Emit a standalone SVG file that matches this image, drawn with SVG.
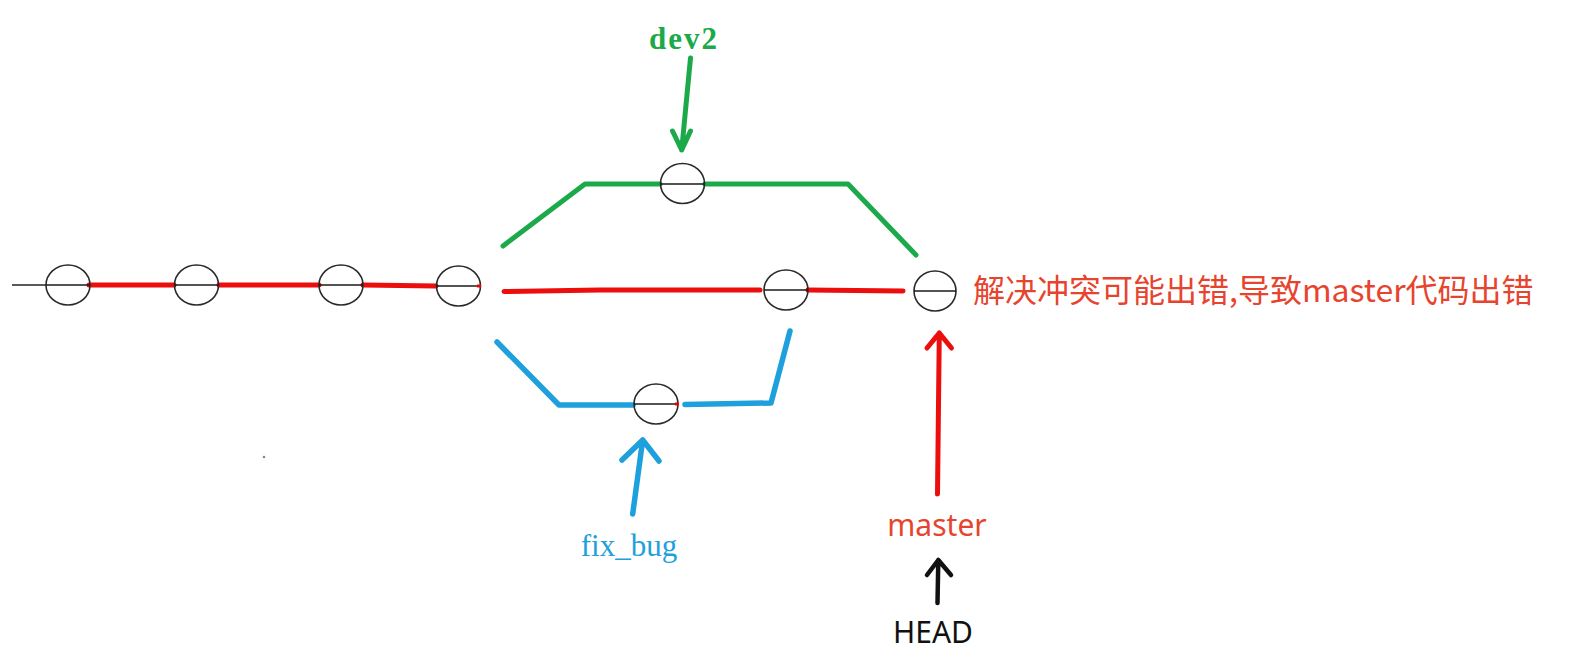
<svg xmlns="http://www.w3.org/2000/svg" width="1578" height="662" viewBox="0 0 1578 662">
<defs>
<style>
.c{fill:none;stroke:#2a2a2a;stroke-width:1.6}
.d{stroke:#1a1a1a;stroke-width:1.6}
.r{fill:none;stroke:#ec0d0d;stroke-width:5;stroke-linecap:round;stroke-linejoin:round}
.g{fill:none;stroke:#1ca94a;stroke-width:5;stroke-linecap:round;stroke-linejoin:round}
.b{fill:none;stroke:#1ea0dc;stroke-width:5.5;stroke-linecap:round;stroke-linejoin:round}
.k{fill:none;stroke:#111;stroke-width:4.5;stroke-linecap:round;stroke-linejoin:round}
.serif{font-family:"Liberation Serif","DejaVu Serif",serif}
.sans{font-family:"Noto Sans","Noto Sans CJK SC",sans-serif}
</style>
</defs>
<rect width="1578" height="662" fill="#fff"/>
<g id="connectors">
<line x1="12" y1="285" x2="46" y2="285" stroke="#222" stroke-width="1.6"/>
<line class="r" x1="89" y1="285" x2="174" y2="285"/>
<line class="r" x1="219" y1="285" x2="319" y2="285"/>
<line class="r" x1="363" y1="285" x2="436" y2="286"/>
<path class="r" d="M504 291.5 L600 290 L760 290"/>
<line class="r" x1="808" y1="290" x2="903" y2="291"/>
<path class="g" d="M503 246 L585 184 L660 184"/>
<path class="g" d="M705 184 L848 184 L916 255"/>
<path class="b" d="M497 342 L559 405 L633 405"/>
<path class="b" d="M685 404.5 L771 403 L790 331"/>
<path class="g" d="M690.5 58 L681.7 150 M672.5 131 L681.7 150 L690.5 131"/>
<path class="b" d="M632.7 514 L642.7 440 M622 460 L642.7 440 L659 461"/>
<path class="r" d="M937.5 494 L939.3 333 M927 348 L939.3 333 L951.5 348"/>
<path class="k" d="M937.5 603 L938.3 560 M927 575 L938.3 560 L951 575"/>
</g>
<g id="c1"><ellipse class="c" cx="68" cy="285" rx="22" ry="20"/><line class="d" x1="46" y1="285" x2="90" y2="285"/></g>
<g id="c2"><ellipse class="c" cx="196.5" cy="285" rx="22" ry="20"/><line class="d" x1="174.5" y1="285" x2="218.5" y2="285"/></g>
<g id="c3"><ellipse class="c" cx="341" cy="285" rx="22" ry="20"/><line class="d" x1="319" y1="285" x2="363" y2="285"/></g>
<g id="c4"><ellipse class="c" cx="458.5" cy="286" rx="22" ry="20"/><line class="d" x1="436.5" y1="286" x2="478" y2="286"/><line x1="477" y1="286" x2="481" y2="286" stroke="#e00" stroke-width="3"/></g>
<g id="c-dev2"><ellipse class="c" cx="682.5" cy="183.5" rx="22" ry="20"/><line class="d" x1="660.5" y1="184" x2="704.5" y2="184"/></g>
<g id="c-master1"><ellipse class="c" cx="786" cy="290" rx="22" ry="20"/><line class="d" x1="764" y1="290" x2="808" y2="290"/></g>
<g id="c-fix"><ellipse class="c" cx="656" cy="404" rx="22" ry="20"/><line class="d" x1="634" y1="404" x2="676" y2="404"/><line x1="675" y1="404" x2="679" y2="404" stroke="#e00" stroke-width="3"/></g>
<g id="c-merge"><ellipse class="c" cx="935" cy="291" rx="21" ry="20"/><line class="d" x1="914" y1="291" x2="956" y2="291"/></g>
<g id="label-dev2"><text class="serif" x="684" y="49" font-size="31" font-weight="bold" fill="#1ca94a" text-anchor="middle" letter-spacing="2">dev2</text></g>
<g id="label-fix"><text class="serif" x="629" y="556" font-size="31" fill="#1ea0dc" text-anchor="middle">fix_bug</text></g>
<g id="label-master"><text class="sans" x="937" y="536" font-size="30" fill="#e6442e" text-anchor="middle">master</text></g>
<g id="label-head"><text class="sans" x="933" y="643" font-size="30" fill="#111" text-anchor="middle">HEAD</text></g>
<g id="label-note"><text x="973" y="302" font-size="32" fill="#e6442e" font-family="'Noto Sans CJK SC',sans-serif">解决冲突可能出错,导致master代码出错</text></g>
<circle cx="264" cy="457" r="1.3" fill="#888"/>
</svg>
